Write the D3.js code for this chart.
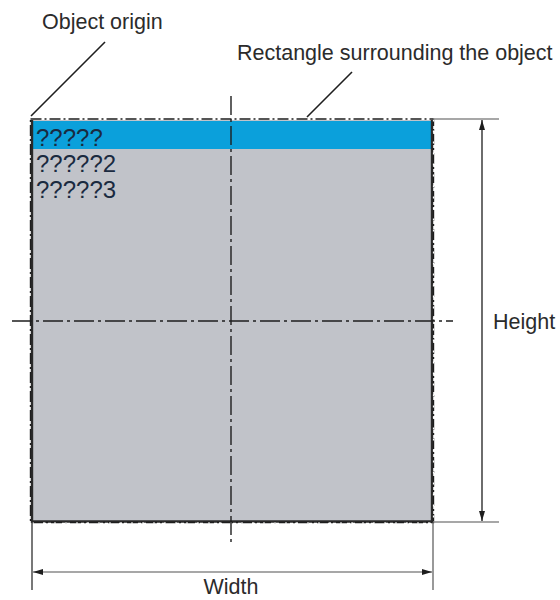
<!DOCTYPE html>
<html><head><meta charset="utf-8">
<script src="https://cdn.jsdelivr.net/npm/d3@7"></script>
<style>html,body{margin:0;padding:0;background:#fff;}svg{display:block;}</style>
</head><body>
<script>
// ---- data ----
const rows = ["?????", "?????2", "?????3"];
const selectedRow = 0;
const annotations = ["Object origin", "Rectangle surrounding the object"];
const dimensionLabels = ["Height", "Width"];
const objectSize = [400, 402]; // object width, height (px units)

const W = 560, H = 600;
const svg = d3.select("body").append("svg").attr("width", W).attr("height", H);
const defs = svg.append("defs");
function marker(id, orient){
  defs.append("marker").attr("id", id).attr("viewBox","0 0 10 6")
    .attr("refX",10).attr("refY",3).attr("markerWidth",10).attr("markerHeight",6)
    .attr("markerUnits","userSpaceOnUse").attr("orient",orient)
    .append("path").attr("d","M0,0L10,3L0,6Z").attr("fill","#1e1e1e");
}
marker("arr","auto"); marker("arrS","auto-start-reverse");

// scales mapping object coordinates to pixels
const x = d3.scaleLinear().domain([0, objectSize[0]]).range([32, 432]);
const y = d3.scaleLinear().domain([0, objectSize[1]]).range([120, 522]);
const rowBand = d3.scaleBand().domain(rows).range([y(1), y(1) + 26 * rows.length]);

const font = "'Liberation Sans', Arial, sans-serif";
const dashDot = "19,4,3,4";

// object body
svg.append("rect").attr("x", x(0)).attr("y", y(0)).attr("width", x(objectSize[0]) - x(0))
  .attr("height", y(objectSize[1]) - y(0)).attr("fill", "#c1c3c9");
// selected row
svg.append("rect").attr("x", x(0)).attr("y", rowBand(rows[selectedRow]))
  .attr("width", x(objectSize[0]) - x(0)).attr("height", rowBand.bandwidth() + 2)
  .attr("fill", "#0ba0db");
// borders
svg.append("path").attr("d", `M${x(0)},${y(0)}V${y(objectSize[1])-0.5}H${x(objectSize[0])}V${y(0)}`)
  .attr("fill","none").attr("stroke","#2a2a2a").attr("stroke-width",2.4);
// rows text
svg.selectAll("text.row").data(rows).join("text").attr("class","row")
  .attr("x", x(0) + 4).attr("y", d => rowBand(d) + 25)
  .attr("font-family", font).attr("font-size", 24).attr("fill", "#1a2a40").text(d => d);

// surrounding rectangle (dash-dot)
svg.append("rect").attr("x", x(0) - 1.5).attr("y", y(0) - 1).attr("width", x(objectSize[0]) - x(0) + 3)
  .attr("height", y(objectSize[1]) - y(0) + 1.5).attr("fill","none")
  .attr("stroke","#1e1e1e").attr("stroke-width",1.4).attr("stroke-dasharray","11,3,2,3");
// white gaps along bottom/right
svg.append("path").attr("d", `M${x(0)},${y(objectSize[1])+1}H${x(objectSize[0])+1.5}V${y(0)}`)
  .attr("fill","none").attr("stroke","#fff").attr("stroke-width",1.2).attr("stroke-dasharray","2,9");

// center cross lines
const cx = x(objectSize[0] / 2) - 1, cy = y(objectSize[1] / 2);
svg.append("line").attr("x1", cx).attr("x2", cx).attr("y1", 96).attr("y2", 546)
  .attr("stroke","#1e1e1e").attr("stroke-width",1.4).attr("stroke-dasharray", dashDot);
svg.append("line").attr("x1", 12).attr("x2", 453).attr("y1", cy).attr("y2", cy)
  .attr("stroke","#1e1e1e").attr("stroke-width",1.4).attr("stroke-dasharray", "20,4,3,4");

// Height dimension
svg.append("line").attr("x1", x(objectSize[0]) + 1).attr("x2", 499).attr("y1", y(0) - 1).attr("y2", y(0) - 1)
  .attr("stroke","#8a8a8a").attr("stroke-width",1.3);
svg.append("line").attr("x1", x(objectSize[0]) + 1).attr("x2", 499).attr("y1", y(objectSize[1])).attr("y2", y(objectSize[1]))
  .attr("stroke","#8a8a8a").attr("stroke-width",1.3);
svg.append("line").attr("x1", 482).attr("x2", 482).attr("y1", y(0)).attr("y2", y(objectSize[1]) - 1)
  .attr("stroke","#1e1e1e").attr("stroke-width",1.3)
  .attr("marker-start","url(#arrS)").attr("marker-end","url(#arr)");
svg.append("text").attr("x", 493).attr("y", 329).attr("font-family", font).attr("font-size", 21.5)
  .attr("fill","#2b2b2b").text(dimensionLabels[0]);

// Width dimension
svg.append("line").attr("x1", x(0)).attr("x2", x(0)).attr("y1", y(objectSize[1])).attr("y2", 590)
  .attr("stroke","#1e1e1e").attr("stroke-width",1.2);
svg.append("line").attr("x1", x(objectSize[0]) + 1).attr("x2", x(objectSize[0]) + 1).attr("y1", y(objectSize[1])).attr("y2", 590)
  .attr("stroke","#555").attr("stroke-width",1.2);
svg.append("line").attr("x1", x(0) + 1).attr("x2", x(objectSize[0])).attr("y1", 572).attr("y2", 572)
  .attr("stroke","#8a8a8a").attr("stroke-width",1.3)
  .attr("marker-start","url(#arrS)").attr("marker-end","url(#arr)");
svg.append("text").attr("x", 231).attr("y", 594).attr("text-anchor","middle").attr("font-family", font)
  .attr("font-size", 21.5).attr("fill","#2b2b2b").text(dimensionLabels[1]);

// annotations
svg.append("text").attr("x", 42).attr("y", 29).attr("font-family", font).attr("font-size", 21.5)
  .attr("fill","#2b2b2b").text(annotations[0]);
svg.append("line").attr("x1", 105).attr("y1", 42).attr("x2", 31).attr("y2", 116)
  .attr("stroke","#1e1e1e").attr("stroke-width",1.6);
svg.append("text").attr("x", 237).attr("y", 60).attr("font-family", font).attr("font-size", 21.5)
  .attr("fill","#2b2b2b").text(annotations[1]);
svg.append("line").attr("x1", 352).attr("y1", 72).attr("x2", 307).attr("y2", 117)
  .attr("stroke","#1e1e1e").attr("stroke-width",1.6);
</script>
</body></html>
